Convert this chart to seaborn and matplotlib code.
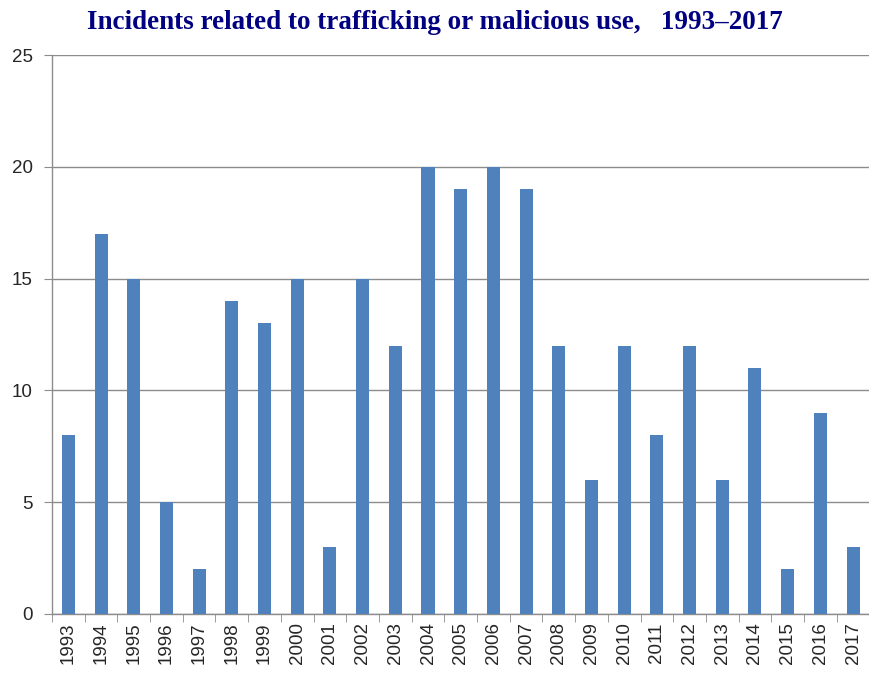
import pandas as pd
import numpy as np
import seaborn as sns
import matplotlib.pyplot as plt

# Incidentes por ano
anos = [str(a) for a in range(1993, 2018)]
incidentes = [8, 17, 15, 5, 2, 14, 13, 15, 3, 15, 12, 20, 19, 20, 19,
              12, 6, 12, 8, 12, 6, 11, 2, 9, 3]
yticks = [0, 5, 10, 15, 20, 25]

df = pd.DataFrame({'ano': anos, 'incidentes': incidentes})

sns.set_style('white')
plt.rcParams['font.family'] = ['Liberation Sans', 'DejaVu Sans']

fig = plt.figure(figsize=(8.7, 6.73), dpi=100)
ax = fig.add_axes([0.0598, 0.0877, 0.9395, 0.8303])

sns.barplot(data=df, x='ano', y='incidentes', color='#4f81bd', width=0.4,
            saturation=1, linewidth=0, ax=ax, zorder=3)

ax.set_ylim(0, 25)
ax.set_xlim(-0.5, len(anos) - 0.5)
ax.set_yticks(yticks)
ax.yaxis.grid(True, color='#8c8c8c', linewidth=1)
ax.set_axisbelow(True)
ax.set_xlabel('')
ax.set_ylabel('')

for s in ['top', 'right']:
    ax.spines[s].set_visible(False)
for s in ['left', 'bottom']:
    ax.spines[s].set_color('#8c8c8c')
    ax.spines[s].set_linewidth(1)

# marcas do eixo x entre as barras
ax.set_xticks(np.arange(len(anos)) - 0.5, minor=True)
ax.tick_params(axis='x', which='major', length=0, labelrotation=90,
               labelsize=13.5, pad=6)
ax.tick_params(axis='x', which='minor', length=6, color='#8c8c8c',
               bottom=True, direction='out')
ax.tick_params(axis='y', length=6, color='#8c8c8c', labelsize=13.5,
               left=True, direction='out', pad=8)

fig.suptitle('Incidents related to trafficking or malicious use,   1993\u20132017',
             x=0.5, y=0.985, fontsize=19.5, fontweight='bold', color='#000080',
             family='Liberation Serif')

plt.savefig('out.png', dpi=100)
plt.close()
